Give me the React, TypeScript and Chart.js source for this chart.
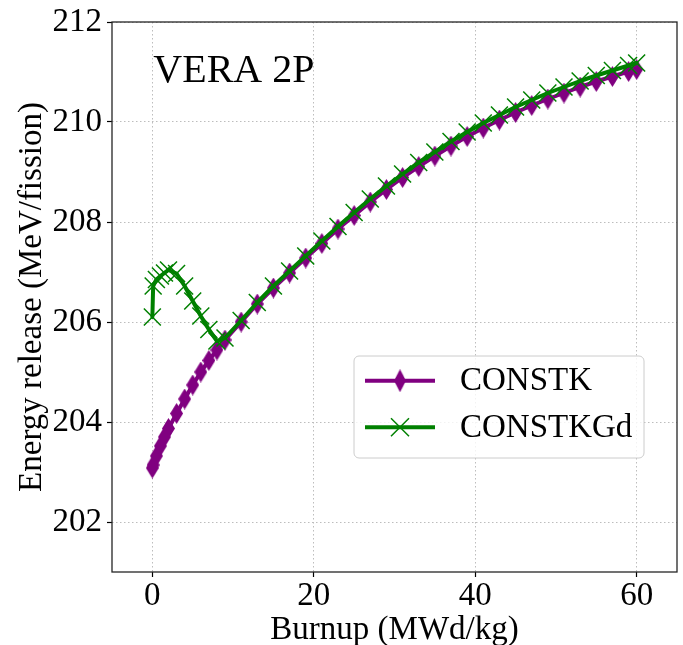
import React, { useEffect, useRef } from 'react';
import { Chart, registerables } from 'chart.js';

Chart.register(...registerables);

// ---- data ----
const burnup = [0, 0.1, 0.5, 1, 1.5, 2, 3, 4, 5, 6, 7, 8, 9, 11, 13, 15, 17, 19, 21, 23, 25, 27, 29, 31, 33, 35, 37, 39, 41, 43, 45, 47, 49, 51, 53, 55, 57, 59, 60];
const constk = [203.08, 203.14, 203.32, 203.52, 203.7, 203.87, 204.17, 204.46, 204.74, 205.0, 205.23, 205.44, 205.64, 206.0, 206.36, 206.68, 206.98, 207.28, 207.57, 207.86, 208.13, 208.4, 208.65, 208.89, 209.11, 209.32, 209.52, 209.71, 209.88, 210.04, 210.19, 210.33, 210.46, 210.58, 210.7, 210.81, 210.91, 211.01, 211.05];
const constkgd = [206.1, 206.72, 206.85, 206.92, 206.98, 207.04, 206.97, 206.72, 206.42, 206.12, 205.85, 205.62, 205.68, 206.03, 206.39, 206.72, 207.02, 207.32, 207.62, 207.91, 208.19, 208.46, 208.72, 208.96, 209.19, 209.4, 209.61, 209.8, 209.98, 210.14, 210.3, 210.44, 210.58, 210.7, 210.82, 210.93, 211.03, 211.13, 211.18];
const seriesLabels = ['CONSTK', 'CONSTKGd'];
const xTicks = [0, 20, 40, 60];
const yTicks = [202, 204, 206, 208, 210, 212];
const panelTitle = 'VERA 2P';
const xTitle = 'Burnup (MWd/kg)';
const yTitle = 'Energy release (MeV/fission)';

const PURPLE = '#800080';
const GREEN = '#008000';
const FONT = "'Liberation Serif', 'Times New Roman', serif";

export default function App() {
  const ref = useRef<HTMLCanvasElement>(null);

  useEffect(() => {
    const canvas = ref.current!;
    const diamond = document.createElement('canvas');
    diamond.width = 13;
    diamond.height = 21;
    const dc = diamond.getContext('2d')!;
    dc.fillStyle = PURPLE;
    dc.beginPath();
    dc.moveTo(6.5, 0);
    dc.lineTo(13, 10.5);
    dc.lineTo(6.5, 21);
    dc.lineTo(0, 10.5);
    dc.closePath();
    dc.fill();

    const overlay = {
      id: 'overlay',
      afterDraw(chart: any) {
        const { ctx, chartArea: a, scales } = chart;
        ctx.save();
        // frame
        ctx.strokeStyle = '#262626';
        ctx.lineWidth = 1.3;
        ctx.setLineDash([]);
        ctx.strokeRect(a.left, a.top, a.right - a.left, a.bottom - a.top);
        // panel title
        ctx.fillStyle = '#000';
        ctx.font = `40px ${FONT}`;
        ctx.textAlign = 'left';
        ctx.textBaseline = 'alphabetic';
        ctx.fillText(panelTitle, scales.x.getPixelForValue(0) + 1, scales.y.getPixelForValue(210.8));
        // legend
        const bw = 290, bh = 102;
        const bx = a.right - 33 - bw;
        const by = a.bottom - 114 - bh;
        const r = 5;
        ctx.beginPath();
        ctx.moveTo(bx + r, by);
        ctx.lineTo(bx + bw - r, by);
        ctx.arcTo(bx + bw, by, bx + bw, by + r, r);
        ctx.lineTo(bx + bw, by + bh - r);
        ctx.arcTo(bx + bw, by + bh, bx + bw - r, by + bh, r);
        ctx.lineTo(bx + r, by + bh);
        ctx.arcTo(bx, by + bh, bx, by + bh - r, r);
        ctx.lineTo(bx, by + r);
        ctx.arcTo(bx, by, bx + r, by, r);
        ctx.closePath();
        ctx.fillStyle = 'rgba(255,255,255,0.8)';
        ctx.fill();
        ctx.strokeStyle = '#cccccc';
        ctx.lineWidth = 1;
        ctx.stroke();

        const rows = [by + 24.7, by + 71.3];
        const colors = [PURPLE, GREEN];
        rows.forEach((ry, i) => {
          ctx.strokeStyle = colors[i];
          ctx.lineWidth = 4;
          ctx.beginPath();
          ctx.moveTo(bx + 11, ry);
          ctx.lineTo(bx + 81, ry);
          ctx.stroke();
          const mx = bx + 46;
          if (i === 0) {
            ctx.drawImage(diamond, mx - 6, ry - 11.5, 12, 23);
          } else {
            ctx.lineWidth = 1.5;
            ctx.beginPath();
            ctx.moveTo(mx - 9, ry - 9);
            ctx.lineTo(mx + 9, ry + 9);
            ctx.moveTo(mx + 9, ry - 9);
            ctx.lineTo(mx - 9, ry + 9);
            ctx.stroke();
          }
          ctx.fillStyle = '#000';
          ctx.font = `33px ${FONT}`;
          ctx.textBaseline = 'middle';
          ctx.fillText(seriesLabels[i], bx + 106, ry + 1);
        });
        ctx.restore();
      },
    };

    const tickFont = { family: FONT, size: 33, lineHeight: 1 };
    const gridCommon = {
      color: '#bdbdbd',
      lineWidth: 1,
      tickLength: 5,
      tickColor: '#000',
      tickWidth: 1.2,
      tickBorderDash: [],
    };

    const chart = new Chart(canvas, {
      type: 'line',
      data: {
        datasets: [
          {
            label: seriesLabels[0],
            data: burnup.map((x, i) => ({ x, y: constk[i] })),
            borderColor: PURPLE,
            backgroundColor: PURPLE,
            borderWidth: 4,
            pointStyle: diamond as any,
            pointRadius: 10,
            pointHoverRadius: 10,
            tension: 0,
            borderJoinStyle: 'round',
            borderCapStyle: 'round',
            order: 1,
          },
          {
            label: seriesLabels[1],
            data: burnup.map((x, i) => ({ x, y: constkgd[i] })),
            borderColor: GREEN,
            backgroundColor: GREEN,
            borderWidth: 4,
            pointStyle: 'crossRot',
            pointRadius: 12,
            pointHoverRadius: 12,
            pointBorderWidth: 1.5,
            pointBorderColor: GREEN,
            tension: 0,
            borderJoinStyle: 'round',
            borderCapStyle: 'round',
            order: 0,
          },
        ],
      },
      options: {
        animation: false,
        responsive: false,
        devicePixelRatio: 1,
        events: [],
        layout: { autoPadding: false, padding: { top: 22, right: 6, left: 0, bottom: 0 } },
        plugins: {
          legend: { display: false },
          tooltip: { enabled: false },
          title: { display: false },
        },
        scales: {
          x: {
            type: 'linear',
            min: -5,
            max: 65,
            afterBuildTicks: (s: any) => {
              s.ticks = xTicks.map((v) => ({ value: v }));
            },
            afterFit: (s: any) => {
              s.height = 73;
              s.paddingLeft = 0;
              s.paddingRight = 0;
            },
            grid: gridCommon,
            border: { display: false, dash: [1.5, 2.5] },
            ticks: { font: tickFont, color: '#000', padding: 3, maxRotation: 0 },
            title: {
              display: true,
              text: xTitle,
              color: '#000',
              font: { family: FONT, size: 33, lineHeight: 1 },
              padding: { top: 0, bottom: -2 },
            },
          },
          y: {
            type: 'linear',
            min: 201,
            max: 212,
            afterBuildTicks: (s: any) => {
              s.ticks = yTicks.map((v) => ({ value: v }));
            },
            afterFit: (s: any) => {
              s.width = 112;
              s.paddingTop = 0;
              s.paddingBottom = 0;
            },
            grid: gridCommon,
            border: { display: false, dash: [1.5, 2.5] },
            ticks: { font: tickFont, color: '#000', padding: 5 },
            title: {
              display: true,
              text: yTitle,
              color: '#000',
              font: { family: FONT, size: 33, lineHeight: 1 },
              padding: { top: 15.5, bottom: 0 },
            },
          },
        },
      },
      plugins: [overlay],
    } as any);

    return () => chart.destroy();
  }, []);

  return (
    <div style={{ position: 'absolute', left: 0, top: 0, width: 683, height: 645, background: '#fff' }}>
      <canvas ref={ref} width={683} height={645} style={{ display: 'block', width: 683, height: 645 }} />
    </div>
  );
}
